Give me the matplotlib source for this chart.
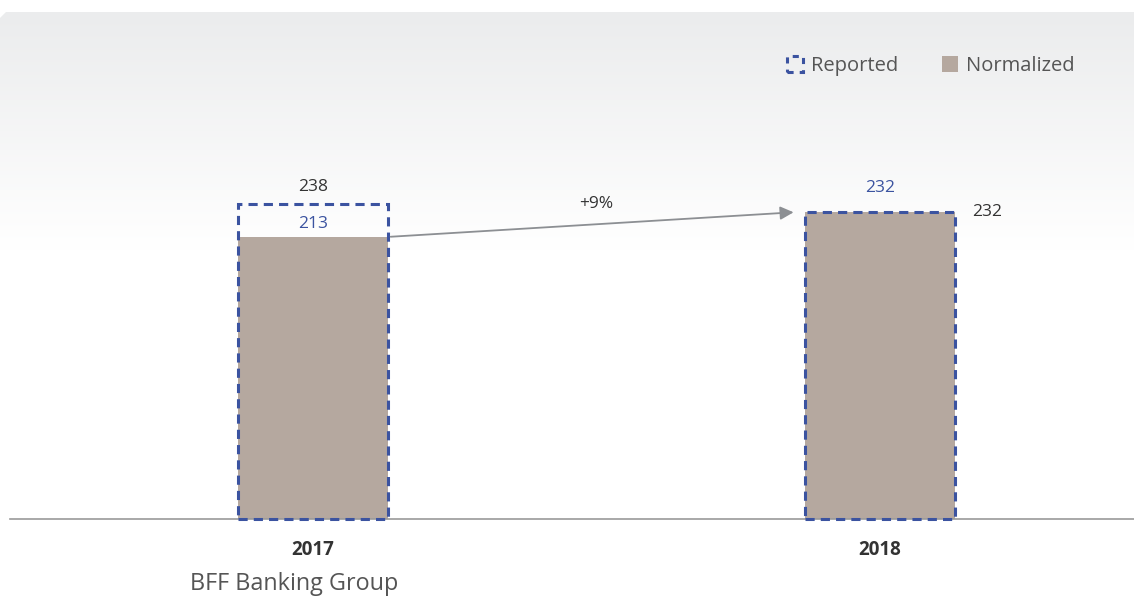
import matplotlib.pyplot as plt
import numpy as np
from matplotlib.patches import Rectangle, Patch, Polygon
from matplotlib.colors import LinearSegmentedColormap

plt.rcParams['font.family'] = ['Open Sans', 'DejaVu Sans']

# data
years = ['2017', '2018']
reported = [238, 232]
normalized = [213, 232]
growth_label = '+9%'
group_label = 'BFF Banking Group'

blue = '#3b53a0'
taupe = '#b5a89f'
dark = '#333333'

W, H = 1134, 596
fig = plt.figure(figsize=(W / 100, H / 100), dpi=100)

# gradient background panel
bg = fig.add_axes([0, 0, 1, 1], zorder=0)
bg.set_xlim(0, W)
bg.set_ylim(H, 0)
bg.axis('off')
grad = np.linspace(0, 1, 256)[:, None]
cmap = LinearSegmentedColormap.from_list('g', ['#ebeced', '#ffffff'])
img = bg.imshow(grad, extent=(0, W, 250, 12), cmap=cmap, aspect='auto', origin='upper')
clip = Polygon([(0, 18), (6, 12), (W, 12), (W, 250), (0, 250)], transform=bg.transData)
img.set_clip_path(clip)

ax = fig.add_axes([10 / W, 77 / H, 1 - 10 / W, 507 / H], zorder=1)
ax.patch.set_alpha(0)
ax.set_xlim(-0.534, 1.448)
ax.set_ylim(0, 383.5)
for s in ['top', 'right', 'left']:
    ax.spines[s].set_visible(False)
ax.spines['bottom'].set_color('#9a9a9a')
ax.spines['bottom'].set_linewidth(1.2)
ax.set_yticks([])
x = np.arange(len(years))
ax.set_xticks(x)
ax.set_xticklabels(years, fontsize=13.5, fontweight='bold', color=dark)
ax.tick_params(axis='x', length=0, pad=15)

bw = 150 / 567
ax.bar(x, normalized, width=bw, color=taupe, zorder=2)
for xi, r in zip(x, reported):
    ax.add_patch(Rectangle((xi - bw / 2, 0), bw, r, fill=False, edgecolor=blue,
                           linewidth=2.2, linestyle=(0, (3, 2)), zorder=3, clip_on=False))

# value labels
ax.text(x[0], reported[0] + 13, str(reported[0]), ha='center', va='center', fontsize=12.5, color=dark)
ax.text(x[0], normalized[0] + 10, str(normalized[0]), ha='center', va='center', fontsize=12.5, color=blue)
ax.text(x[1], reported[1] + 18, str(reported[1]), ha='center', va='center', fontsize=12.5, color=blue)
ax.text(x[1] + bw / 2 + 0.03, normalized[1], str(normalized[1]), ha='left', va='center', fontsize=12.5, color=dark)

# growth arrow
ax.annotate('', xy=(x[1] - bw / 2 - 0.02, normalized[1]), xytext=(x[0] + bw / 2 + 0.005, normalized[0] + 0.5),
            arrowprops=dict(arrowstyle='-|>', color='#8c8f93', lw=1.3, mutation_scale=20,
                            shrinkA=0, shrinkB=0), zorder=4)
ax.text(0.5, 238, growth_label, ha='center', va='center', fontsize=12.5, color=dark)

ax.text(180 / 567 - 0.534, -0.128, group_label, transform=ax.get_xaxis_transform(),
        ha='left', va='center', fontsize=16.8, color='#555555')

handles = [Patch(facecolor='none', edgecolor=blue, linestyle=(0, (2, 2)), linewidth=2.2),
           Patch(facecolor=taupe, edgecolor='none')]
leg = fig.legend(handles, ['Reported', 'Normalized'], loc='center right',
                 bbox_to_anchor=(1093 / W, 1 - 66 / H), ncol=2, frameon=False,
                 fontsize=14.5, handlelength=0.78, handleheight=0.78, handletextpad=0.4,
                 columnspacing=2.2, labelcolor='#555555')

fig.savefig('out.png', dpi=100)
